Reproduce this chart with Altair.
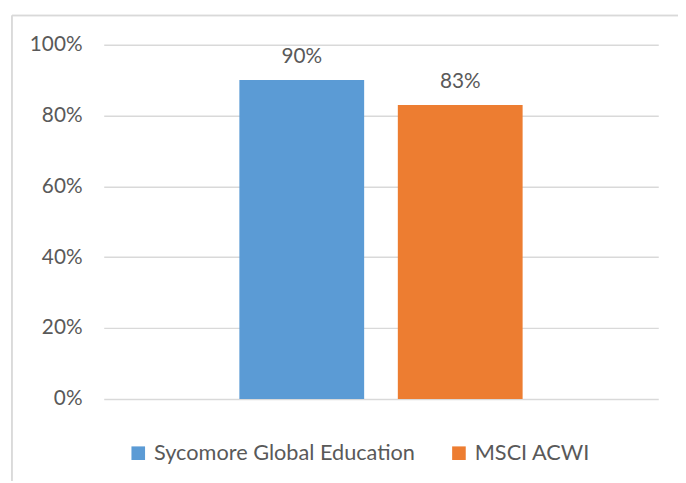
import altair as alt
import pandas as pd

series = ["Sycomore Global Education", "MSCI ACWI"]
values = [0.90, 0.83]
labels = ["90%", "83%"]
colors = ["#5B9BD5", "#ED7D31"]
y_ticks = [0, 0.2, 0.4, 0.6, 0.8, 1.0]

df = pd.DataFrame({"series": series, "value": values, "label": labels})

FONT = "Lato"
GRAY = "#595959"
FS = 21
W, H = 562, 359

x_enc = alt.X("series:N", sort=series, axis=None,
              scale=alt.Scale(paddingInner=0.2125, paddingOuter=0.856))

bars = alt.Chart(df).mark_bar().encode(
    x=x_enc,
    y=alt.Y("value:Q",
            scale=alt.Scale(domain=[0, 1], nice=False),
            axis=alt.Axis(values=y_ticks, format=".0%", title=None,
                          domain=False, ticks=False, labelPadding=22,
                          labelFont=FONT, labelFontSize=FS, labelColor=GRAY,
                          gridColor="#D9D9D9", gridWidth=1.5)),
    color=alt.Color("series:N", sort=series,
                    scale=alt.Scale(domain=series, range=colors),
                    legend=alt.Legend(title=None, orient="none", direction="horizontal",
                                      legendX=24, legendY=403,
                                      symbolType="square", symbolSize=190,
                                      symbolStrokeWidth=0, symbolOpacity=1,
                                      labelFont=FONT, labelFontSize=22, labelColor=GRAY,
                                      labelLimit=400,
                                      labelOffset=5, columnPadding=33)),
)

text = alt.Chart(df).mark_text(font=FONT, fontSize=FS, color=GRAY,
                               baseline="alphabetic", dy=-17.5).encode(
    x=x_enc,
    y="value:Q",
    text="label:N",
)

border_left = alt.Chart(df).mark_rule(color="#D9D9D9", strokeWidth=1.5).encode(
    x=alt.value(-93), y=alt.value(-29.5), y2=alt.value(460))
border_top = alt.Chart(df).mark_rule(color="#D9D9D9", strokeWidth=1.5).encode(
    x=alt.value(-93), x2=alt.value(620), y=alt.value(-29.5))

chart = alt.layer(bars, text, border_left, border_top).properties(
    width=W, height=H,
    background="white",
    autosize=alt.AutoSizeParams(type="none"),
    padding={"left": 97, "top": 34, "right": 20, "bottom": 80},
).configure_view(strokeWidth=0)

chart.save("out.html", embed_options={"renderer": "svg", "actions": False})
